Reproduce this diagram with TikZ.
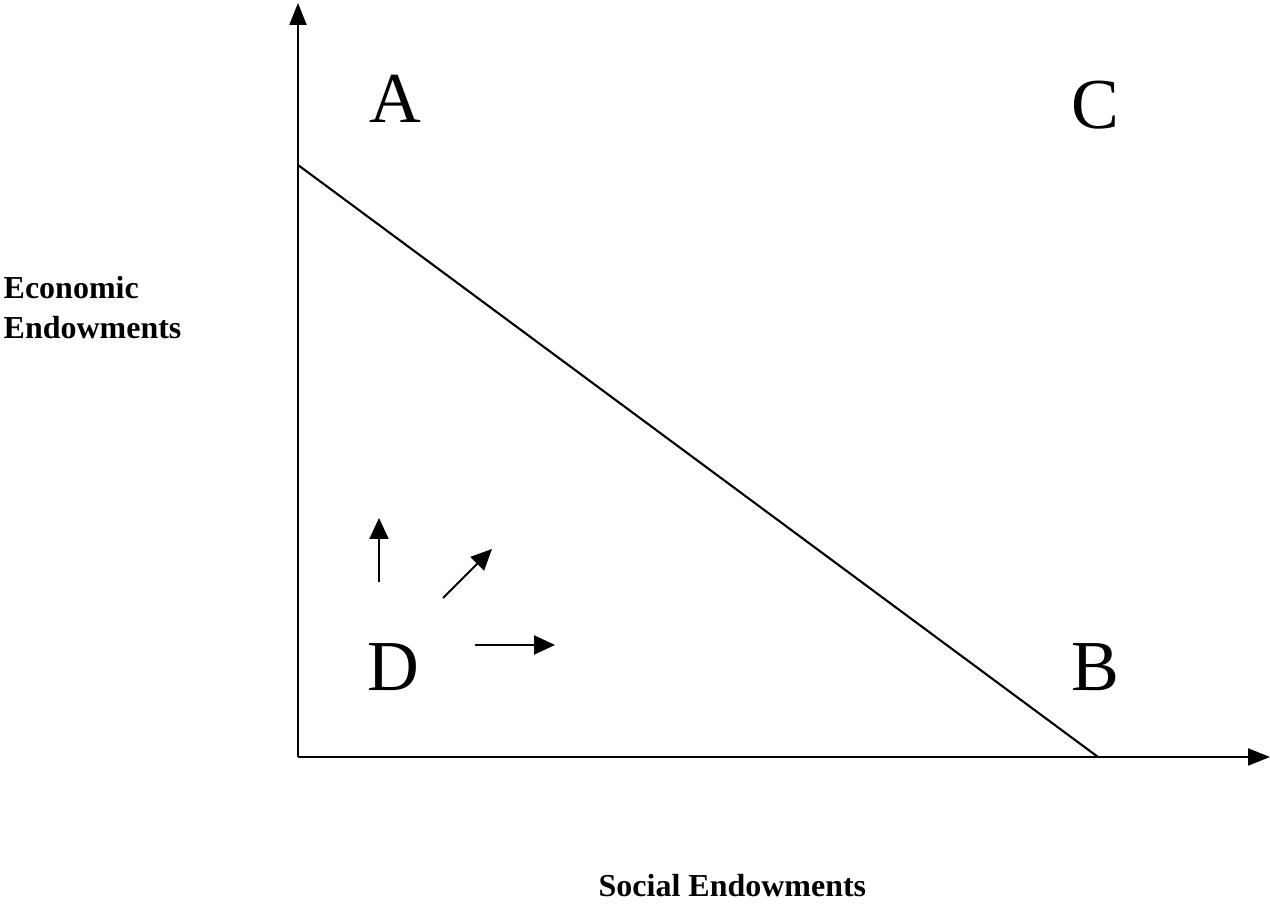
\documentclass[tikz,border=0pt]{standalone}
\usepackage{fontspec}
\setmainfont{Liberation Serif}
\usetikzlibrary{arrows.meta}

\begin{document}
\begin{tikzpicture}[
  axis/.style={line width=0.6pt,-{Triangle[length=0.22cm,width=0.17cm]}},
  move/.style={line width=0.6pt,-{Triangle[length=0.21cm,width=0.19cm]}},
  corner/.style={inner sep=0pt,font=\fontsize{20.4pt}{24pt}\selectfont},
  axislabel/.style={inner sep=0pt,font=\fontsize{9.1pt}{11.3pt}\selectfont\bfseries,align=left},
]
  \useasboundingbox (0,0) rectangle (12.70,9.07);

  \coordinate (O) at (2.98,1.50);
  \coordinate (ytip) at (2.98,9.04);
  \coordinate (xtip) at (12.70,1.50);
  \coordinate (ecotop) at (2.98,7.42);
  \coordinate (socend) at (10.98,1.50);

  % axes
  \draw[axis] (O) -- (ytip);
  \draw[axis] (O) -- (xtip);

  % frontier
  \draw[line width=0.6pt] (ecotop) -- (socend);

  \node[corner] (A) at (3.95,8.08) {A};
  \node[corner] (C) at (10.95,8.02) {C};
  \node[corner] (B) at (10.95,2.40) {B};
  \node[corner] (D) at (3.93,2.40) {D};

  % movements out of D
  \coordinate (up0) at (3.79,3.25);
  \coordinate (up1) at (3.79,3.89);
  \coordinate (dg0) at (4.43,3.09);
  \coordinate (dg1) at (4.92,3.58);
  \coordinate (rt0) at (4.75,2.62);
  \coordinate (rt1) at (5.55,2.62);
  \draw[move] (up0) -- (up1);
  \draw[move] (dg0) -- (dg1);
  \draw[move] (rt0) -- (rt1);

  \node[axislabel,anchor=north west] (ylab) at (0.03,6.31) {Economic\\Endowments};
  \node[axislabel,anchor=base west] (xlab) at (5.98,0.10) {Social Endowments};
\end{tikzpicture}
\end{document}
